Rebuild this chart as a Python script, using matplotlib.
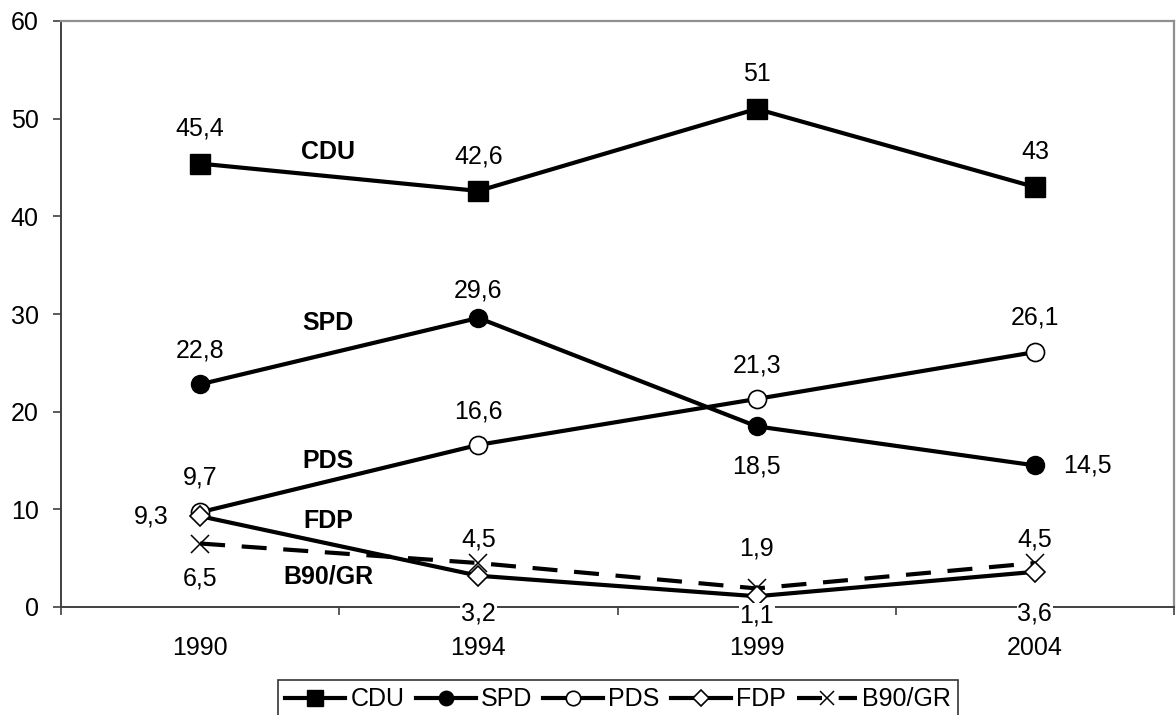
import numpy as np
import matplotlib
matplotlib.use("Agg")
import matplotlib.pyplot as plt
from matplotlib.ticker import FixedLocator

plt.rcParams["font.family"] = ["Liberation Sans", "DejaVu Sans"]

# --- Data ---
years = ["1990", "1994", "1999", "2004"]
cdu = [45.4, 42.6, 51, 43]
spd = [22.8, 29.6, 18.5, 14.5]
pds = [9.7, 16.6, 21.3, 26.1]
fdp = [9.3, 3.2, 1.1, 3.6]
b90 = [6.5, 4.5, 1.9, 4.5]

# label placement per point: (dx, dy) offsets in points
cdu_off = [(0, 25), (0, 25), (0, 25), (0, 25)]
spd_off = [(0, 24), (0, 20), (0, -29), (38, 0)]
pds_off = [(0, 25), (0, 24), (0, 24), (0, 25)]
fdp_off = [(-35, 0), (0, -27), (0, -14), (0, -30)]
b90_off = [(0, -25), (0, 17), (0, 29), (0, 17)]

fs = 18
x = np.arange(len(years))

fig = plt.figure(figsize=(11.76, 7.15), dpi=100)
ax = fig.add_axes([61 / 1176, 1 - 607 / 715, (1174 - 61) / 1176, (607 - 21) / 715])

lw = 3
ax.plot(x, cdu, color="black", lw=lw, marker="s", ms=14, mfc="black", mec="black", label="CDU", zorder=3)
ax.plot(x, spd, color="black", lw=lw, marker="o", ms=13, mfc="black", mec="black", label="SPD", zorder=3)
ax.plot(x, pds, color="black", lw=lw, marker="o", ms=13, mfc="white", mec="black", mew=1.2, label="PDS", zorder=3)
ax.plot(x, fdp, color="black", lw=lw, marker="D", ms=10.5, mfc="white", mec="black", mew=1.2, label="FDP", zorder=4)
ax.plot(x, b90, color="black", lw=lw, ls=(0, (6, 4)), marker="x", ms=13, mew=1.1, mec="black",
        label="B90/GR", zorder=3)

for vals, offs, below_bg in [(cdu, cdu_off, False), (spd, spd_off, False), (pds, pds_off, False),
                             (fdp, fdp_off, True), (b90, b90_off, False)]:
    for xi, v, (dx, dy) in zip(x, vals, offs):
        txt = f"{v:g}".replace(".", ",")
        bg = dict(fc="white", ec="none", pad=0.5) if (below_bg and dy < 0) else None
        ax.annotate(txt, xy=(xi, v), xytext=(dx, dy), textcoords="offset points",
                    ha="center", va="center", fontsize=fs, zorder=5, bbox=bg)

# series names
names = ["CDU", "SPD", "PDS", "FDP", "B90/GR"]
name_y = [46.6, 29.1, 14.9, 8.8, 3.1]
for n, ny in zip(names, name_y):
    ax.text(0.46, ny, n, ha="center", va="center", fontsize=fs, fontweight="bold", zorder=5)

ax.set_xlim(-0.5, 3.5)
ax.set_ylim(0, 60)
ax.set_yticks(np.arange(0, 61, 10))
ax.set_xticks(x)
ax.set_xticklabels(years)
ax.xaxis.set_minor_locator(FixedLocator(np.arange(-0.5, 3.6, 1)))
ax.tick_params(axis="x", which="major", length=0, pad=21, labelsize=fs)
ax.tick_params(axis="x", which="minor", length=6, width=1.2, color="#404040", direction="out")
ax.tick_params(axis="y", length=6, width=1.2, color="#404040", pad=10, labelsize=fs)

for s in ["left", "bottom"]:
    ax.spines[s].set_color("#404040")
    ax.spines[s].set_linewidth(1.4)
for s in ["top", "right"]:
    ax.spines[s].set_color("#909090")
    ax.spines[s].set_linewidth(1.6)

leg = fig.legend(loc="upper center", bbox_to_anchor=(618 / 1176, 1 - 680 / 715), ncol=5,
                 fontsize=fs, frameon=True, fancybox=False, edgecolor="black",
                 handlelength=2.4, handletextpad=0.2, columnspacing=0.45, borderpad=0.3,
                 borderaxespad=0, markerscale=0.8)
leg.get_frame().set_linewidth(1.2)

fig.savefig("out.png", dpi=100)
